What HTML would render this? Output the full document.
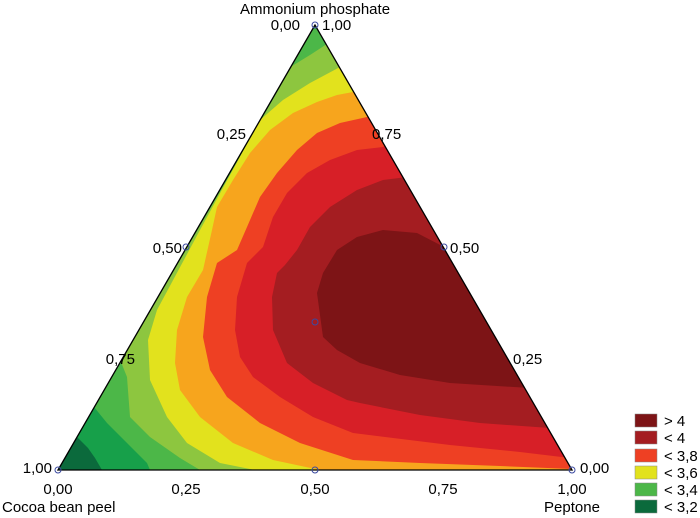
<!DOCTYPE html>
<html><head><meta charset="utf-8"><style>
body{margin:0;background:#fff;}
svg{display:block;font-family:"Liberation Sans",Arial,sans-serif;font-size:15px;fill:#000;}
</style></head><body>
<svg width="700" height="518" viewBox="0 0 700 518" xmlns="http://www.w3.org/2000/svg">
<defs><clipPath id="tri"><polygon points="315,25 58,470 572,470"/></clipPath></defs>
<g clip-path="url(#tri)" stroke="none">
<rect x="0" y="0" width="700" height="518" fill="#0b6a3c"/>
<polygon fill="#17a04a" points="60,430 78,438 88,448 95,458 102,470 600,480 600,0 0,0"/>
<polygon fill="#4cb748" points="60,400 94,407 107,423 127,443 147,463 150,470 600,480 600,0 0,0"/>
<polygon fill="#8dc63f" points="330,42 310,55 292,66 250,140 121,362 127,377 130,417 150,437 180,458 200,470 600,480 600,0"/>
<polygon fill="#e2e21d" points="340,67 310,83 283,100 260,120 200,230 157,310 148,340 150,380 167,417 187,443 220,463 255,470 600,480 600,0"/>
<polygon fill="#f7a51d" points="353,92 337,95 317,102 293,113 270,130 250,153 233,180 217,207 212,230 203,270 187,297 177,330 175,363 180,390 200,417 233,443 273,460 320,470 600,480 600,0"/>
<polygon fill="#ee4023" points="367,117 340,123 317,133 297,150 277,173 260,197 247,227 237,250 217,263 207,297 203,337 210,370 227,397 260,423 300,443 353,460 420,463 500,466 572,469 600,469 600,0"/>
<polygon fill="#d71f27" points="383,147 357,150 330,160 307,173 287,193 273,217 263,247 247,263 237,297 235,330 240,357 253,377 280,397 313,417 353,433 450,445 520,452 570,458 600,458 600,0"/>
<polygon fill="#a41d21" points="407,177 383,180 357,190 330,207 310,227 297,250 285,265 277,273 272,297 273,330 287,363 313,383 347,400 360,403 420,415 480,423 550,428 600,428 600,0"/>
<polygon fill="#7d1416" points="450,250 417,233 383,230 357,237 337,250 323,273 317,293 323,337 337,350 360,363 400,375 450,383 530,388 600,388 600,250"/>
</g>
<polygon points="315,25 58,470 572,470" fill="none" stroke="#000" stroke-width="1.3"/>
<g fill="none" stroke="#3b4aa0" stroke-width="1">
<circle cx="315" cy="25" r="3"/><circle cx="58" cy="470" r="3"/><circle cx="572" cy="470" r="3"/>
<circle cx="186" cy="247" r="3"/><circle cx="444" cy="247" r="3"/><circle cx="315" cy="470" r="3"/><circle cx="315" cy="322" r="3"/>
</g>
<text x="315" y="14" text-anchor="middle">Ammonium phosphate</text>
<text x="300" y="30" text-anchor="end">0,00</text>
<text x="322" y="30">1,00</text>
<text x="246" y="139" text-anchor="end">0,25</text>
<text x="182" y="253" text-anchor="end">0,50</text>
<text x="135" y="364" text-anchor="end">0,75</text>
<text x="52" y="473" text-anchor="end">1,00</text>
<text x="372" y="139">0,75</text>
<text x="450" y="253">0,50</text>
<text x="513" y="364">0,25</text>
<text x="580" y="473">0,00</text>
<text x="58" y="494" text-anchor="middle">0,00</text>
<text x="186" y="494" text-anchor="middle">0,25</text>
<text x="315" y="494" text-anchor="middle">0,50</text>
<text x="443" y="494" text-anchor="middle">0,75</text>
<text x="572" y="494" text-anchor="middle">1,00</text>
<text x="2" y="512">Cocoa bean peel</text>
<text x="572" y="512" text-anchor="middle">Peptone</text>
<g stroke="#888" stroke-width="0.5">
<rect x="635" y="414" width="22" height="13" fill="#7d1416"/>
<rect x="635" y="431" width="22" height="13" fill="#a41d21"/>
<rect x="635" y="449" width="22" height="13" fill="#ee4023"/>
<rect x="635" y="466" width="22" height="13" fill="#e2e21d"/>
<rect x="635" y="483" width="22" height="13" fill="#4cb748"/>
<rect x="635" y="500" width="22" height="13" fill="#0b6a3c"/>
</g>
<text x="664" y="426">&gt; 4</text>
<text x="664" y="443">&lt; 4</text>
<text x="664" y="461">&lt; 3,8</text>
<text x="664" y="478">&lt; 3,6</text>
<text x="664" y="495">&lt; 3,4</text>
<text x="664" y="512">&lt; 3,2</text>
</svg>
</body></html>
